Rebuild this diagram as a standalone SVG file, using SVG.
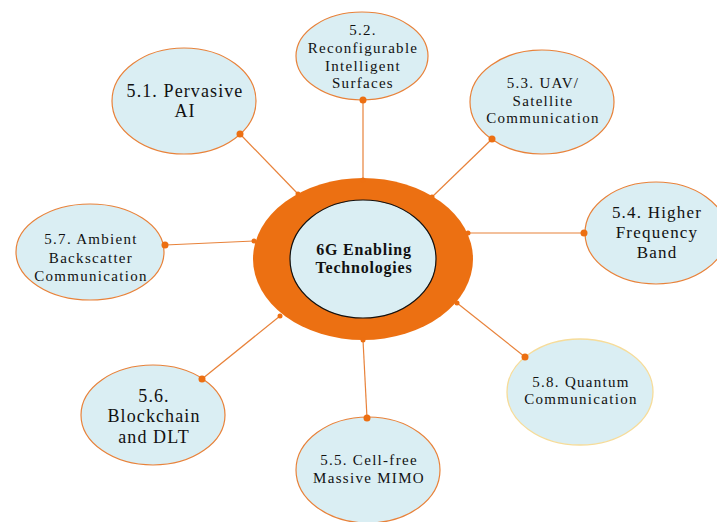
<svg xmlns="http://www.w3.org/2000/svg" width="717" height="522" viewBox="0 0 717 522">
<style>
.n{fill:#daeef3;stroke:#e8823a;stroke-width:1.2}
.q{fill:#daeef3;stroke:#f6dc9a;stroke-width:1.3}
.t{font-family:"Liberation Serif",serif;fill:#111;text-anchor:middle}
.s{font-size:15px;letter-spacing:1.3px}
.m{font-size:17px;letter-spacing:1.2px}
.l{font-size:18px;letter-spacing:1.1px}
.b{font-size:16px;font-weight:bold;letter-spacing:0.8px}
.c line{stroke:#e8823a;stroke-width:1.2}
.c circle{fill:#ec6f12}
</style>
<rect width="717" height="522" fill="#fff"/>
<g id="connectors" class="c">
<line x1="298" y1="194" x2="240" y2="134"/>
<line x1="363" y1="180" x2="363" y2="100"/>
<line x1="432" y1="197" x2="492" y2="139"/>
<line x1="468" y1="233" x2="584" y2="233"/>
<line x1="457" y1="303" x2="525" y2="357"/>
<line x1="363" y1="340" x2="367" y2="418"/>
<line x1="280" y1="316" x2="202" y2="379"/>
<line x1="254" y1="241" x2="165" y2="245"/>
</g>
<g id="n51"><ellipse class="n" cx="184" cy="101" rx="72" ry="53"/>
<text class="t l" x="185" y="97">5.1. Pervasive</text><text class="t l" x="185" y="117">AI</text></g>
<g id="n52"><ellipse class="n" cx="362" cy="56" rx="66" ry="44"/>
<text class="t s" x="363" y="35">5.2.</text><text class="t s" x="363" y="53">Reconfigurable</text><text class="t s" x="363" y="71">Intelligent</text><text class="t s" x="363" y="88">Surfaces</text></g>
<g id="n53"><ellipse class="n" cx="542" cy="102" rx="72" ry="52"/>
<text class="t s" x="543" y="88">5.3. UAV/</text><text class="t s" x="543" y="106">Satellite</text><text class="t s" x="543" y="123">Communication</text></g>
<g id="n54"><ellipse class="n" cx="656" cy="233" rx="71" ry="51"/>
<text class="t m" x="657" y="218">5.4. Higher</text><text class="t m" x="657" y="238">Frequency</text><text class="t m" x="657" y="258">Band</text></g>
<g id="n58"><ellipse class="q" cx="580" cy="392" rx="73" ry="53"/>
<text class="t s" x="581" y="387">5.8. Quantum</text><text class="t s" x="581" y="404">Communication</text></g>
<g id="n55"><ellipse class="n" cx="368" cy="470" rx="72" ry="53"/>
<text class="t s" x="369" y="465">5.5. Cell-free</text><text class="t s" x="369" y="483">Massive MIMO</text></g>
<g id="n56"><ellipse class="n" cx="153" cy="415" rx="72" ry="50"/>
<text class="t l" x="154" y="402">5.6.</text><text class="t l" x="154" y="422">Blockchain</text><text class="t l" x="154" y="443">and DLT</text></g>
<g id="n57"><ellipse class="n" cx="90" cy="252" rx="74" ry="48"/>
<text class="t s" x="91" y="244">5.7. Ambient</text><text class="t s" x="91" y="263">Backscatter</text><text class="t s" x="91" y="281">Communication</text></g>
<g id="center">
<ellipse cx="363" cy="259" rx="110" ry="81" fill="#ec7012"/>
<ellipse cx="363" cy="259" rx="73" ry="59" fill="#daeef3" stroke="#111" stroke-width="1.2"/>
<text class="t b" x="364" y="255">6G Enabling</text>
<text class="t b" x="364" y="273">Technologies</text>
</g>
<g id="dots" class="c">
<circle cx="240" cy="134" r="3.5"/><circle cx="363" cy="100" r="3.5"/><circle cx="492" cy="139" r="3.5"/><circle cx="584" cy="233" r="3.5"/>
<circle cx="525" cy="357" r="3.5"/><circle cx="367" cy="418" r="3.5"/><circle cx="202" cy="379" r="3.5"/><circle cx="165" cy="245" r="3.5"/>
<circle cx="298" cy="194" r="2.5"/><circle cx="363" cy="180" r="2.5"/><circle cx="432" cy="197" r="2.5"/><circle cx="468" cy="233" r="2.5"/>
<circle cx="457" cy="303" r="2.5"/><circle cx="363" cy="340" r="2.5"/><circle cx="280" cy="316" r="2.5"/><circle cx="254" cy="241" r="2.5"/>
</g>
</svg>
